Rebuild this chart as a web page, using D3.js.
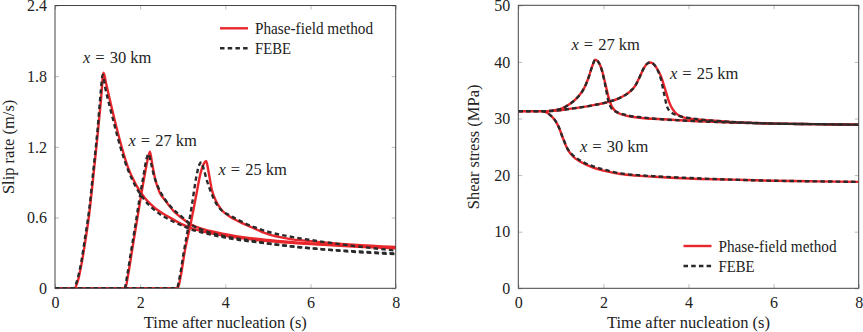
<!DOCTYPE html>
<html><head><meta charset="utf-8">
<script src="https://cdn.jsdelivr.net/npm/d3@7"></script>
<style>body{margin:0;background:#fff;}</style>
</head><body>
<svg id="c" width="863" height="332"></svg>
<script>
// ---------- data ----------
const xTicks = [0, 2, 4, 6, 8];
const slipTicks = [0, 0.6, 1.2, 1.8, 2.4];
const stressTicks = [0, 10, 20, 30, 40, 50];
const legendLabels = ["Phase-field method", "FEBE"];

// Slip rate (m/s)
const pf30_t = [0,0.45,0.55,0.63,0.72,0.8,0.9,1.0,1.08,1.14,1.2,1.3,1.42,1.55,1.72,1.9,2.1,2.35,2.7,3.0,3.2,3.5,4,5,6,7,8];
const pf30_v = [0,0,0.08,0.22,0.42,0.62,0.95,1.3,1.6,1.83,1.74,1.58,1.40,1.22,1.02,0.88,0.77,0.68,0.60,0.54,0.51,0.48,0.445,0.40,0.375,0.355,0.34];
const fe30_t = [0,0.43,0.53,0.62,0.71,0.8,0.9,1.0,1.07,1.12,1.18,1.28,1.4,1.55,1.72,1.9,2.1,2.35,2.7,3.0,3.2,3.5,4,5,6,7,8];
const fe30_v = [0,0,0.08,0.23,0.44,0.66,1.0,1.35,1.65,1.81,1.70,1.55,1.38,1.18,1.0,0.86,0.75,0.66,0.58,0.53,0.50,0.47,0.43,0.38,0.34,0.31,0.29];
const pf27_t = [0,1.65,1.72,1.8,1.9,2.0,2.1,2.18,2.23,2.28,2.35,2.45,2.6,2.8,3.0,3.2,3.5,4,4.5,5,6,7,8];
const pf27_v = [0,0,0.12,0.3,0.52,0.74,0.95,1.1,1.16,1.06,0.93,0.82,0.74,0.65,0.59,0.54,0.50,0.46,0.43,0.41,0.38,0.36,0.345];
const fe27_t = [0,1.63,1.7,1.78,1.88,1.98,2.08,2.15,2.2,2.25,2.32,2.42,2.57,2.7,3.0,3.2,3.5,4,4.5,5,6,7,8];
const fe27_v = [0,0,0.12,0.3,0.52,0.75,0.96,1.1,1.14,1.07,0.96,0.86,0.76,0.70,0.60,0.54,0.49,0.44,0.41,0.38,0.34,0.315,0.295];
const pf25_t = [0,2.88,2.95,3.05,3.17,3.3,3.42,3.5,3.55,3.6,3.68,3.78,3.9,4.1,4.3,4.6,5.0,5.5,6,7,8];
const pf25_v = [0,0,0.1,0.32,0.52,0.76,0.98,1.06,1.08,1.0,0.84,0.74,0.67,0.61,0.57,0.52,0.46,0.42,0.40,0.37,0.35];
const fe25_t = [0,2.86,2.93,3.02,3.12,3.22,3.32,3.39,3.44,3.5,3.58,3.68,3.8,3.95,4.1,4.3,4.6,5,5.5,6,7,8];
const fe25_v = [0,0,0.1,0.3,0.5,0.72,0.95,1.05,1.07,1.0,0.9,0.8,0.71,0.65,0.62,0.58,0.53,0.48,0.44,0.41,0.36,0.32];

// Shear stress (MPa)
const spf30_t = [0,0.55,0.65,0.75,0.86,0.95,1.05,1.17,1.3,1.45,1.7,2.0,2.4,2.8,3.2,4,5,6,7,8];
const spf30_s = [31.3,31.3,31.1,30.6,29.7,28.5,26.5,24.4,23.2,22.4,21.5,20.8,20.2,19.9,19.7,19.4,19.2,19.0,18.9,18.8];
const sfe30_t = [0,0.55,0.65,0.75,0.86,0.95,1.05,1.17,1.3,1.45,1.7,2.0,2.4,2.8,3.2,4,5,6,7,8];
const sfe30_s = [31.3,31.3,31.1,30.6,29.7,28.5,26.5,24.5,23.4,22.6,21.7,21.0,20.3,20.0,19.8,19.5,19.2,19.0,18.9,18.8];
const spf27_t = [0,0.6,0.8,1.0,1.2,1.4,1.55,1.65,1.74,1.81,1.88,1.96,2.05,2.13,2.2,2.27,2.4,2.6,2.9,3.3,4,5,6,7,8];
const spf27_s = [31.3,31.3,31.4,31.7,32.5,33.8,35.4,37.2,39.3,40.4,40.0,38.7,36.0,33.5,32.1,31.4,30.8,30.4,30.1,29.9,29.6,29.3,29.1,29.0,28.9];
const sfe27_t = [0,0.6,0.8,1.0,1.2,1.4,1.55,1.65,1.74,1.81,1.88,1.96,2.05,2.12,2.18,2.25,2.4,2.6,2.9,3.3,4,5,6,7,8];
const sfe27_s = [31.3,31.3,31.4,31.7,32.5,33.8,35.4,37.2,39.3,40.4,40.0,38.6,35.6,33.0,31.9,31.4,30.9,30.5,30.2,29.9,29.6,29.3,29.1,29.0,28.9];
const spf25_t = [0,0.6,0.9,1.2,1.5,1.8,2.1,2.4,2.6,2.75,2.85,2.95,3.03,3.1,3.18,3.27,3.35,3.45,3.55,3.63,3.72,3.85,4.0,4.3,5,6,7,8];
const spf25_s = [31.3,31.3,31.4,31.7,32.0,32.4,32.9,33.7,34.6,35.8,37.3,38.9,39.7,39.9,39.6,38.7,37.5,35.2,32.8,31.6,30.8,30.3,30.0,29.8,29.4,29.1,29.0,28.9];
const sfe25_t = [0,0.6,0.9,1.2,1.5,1.8,2.1,2.4,2.6,2.75,2.85,2.95,3.03,3.1,3.18,3.27,3.35,3.42,3.5,3.58,3.68,3.85,4.0,4.3,5,6,7,8];
const sfe25_s = [31.3,31.3,31.4,31.7,32.0,32.4,32.9,33.7,34.6,35.8,37.3,38.9,39.7,39.9,39.6,38.6,37.0,34.6,32.0,31.2,30.7,30.3,30.1,29.8,29.4,29.1,29.0,28.9];

// ---------- drawing ----------
const RED = "#e8262b", DARK = "#2a2a2a";
const FONT = "Liberation Serif";
const svg = d3.select("#c");

function zip(t, v){ return t.map((d,i)=>[d, v[i]]); }

function panel(cfg){
  const x = d3.scaleLinear().domain([0,8]).range([cfg.x0, cfg.x1]);
  const y = d3.scaleLinear().domain(cfg.ydom).range([cfg.y0, cfg.y1]);
  const g = svg.append("g");
  const tickCol = "#bbb";
  const ab = g.append("g").attr("transform",`translate(0,${cfg.y0})`)
    .call(d3.axisBottom(x).tickValues(xTicks).tickSize(-4).tickSizeOuter(0).tickPadding(8).tickFormat(d3.format("d")));
  const at = g.append("g").attr("transform",`translate(0,${cfg.y1})`)
    .call(d3.axisTop(x).tickValues(xTicks).tickSize(-4).tickSizeOuter(0).tickFormat(""));
  const al = g.append("g").attr("transform",`translate(${cfg.x0},0)`)
    .call(d3.axisLeft(y).tickValues(cfg.yticks).tickSize(-4).tickSizeOuter(0).tickPadding(8).tickFormat(cfg.yfmt));
  const ar = g.append("g").attr("transform",`translate(${cfg.x1},0)`)
    .call(d3.axisRight(y).tickValues(cfg.yticks).tickSize(-4).tickSizeOuter(0).tickFormat(""));
  [ab,at,al,ar].forEach(a=>{
    a.attr("font-family",FONT).attr("font-size",16);
    a.select(".domain").remove();
    a.selectAll("line").attr("stroke",tickCol).attr("stroke-width",1);
    a.selectAll("text").attr("font-size",16).attr("fill","#222").attr("font-family",FONT);
  });
  ab.selectAll("text").attr("dy","0.71em");

  const line = d3.line().x(d=>x(d[0])).y(d=>y(d[1])).curve(d3.curveMonotoneX);
  const clipId = "clip"+cfg.id;
  g.append("clipPath").attr("id",clipId).append("rect")
    .attr("x",cfg.x0).attr("y",cfg.y1-2).attr("width",cfg.x1-cfg.x0+2).attr("height",cfg.y0-cfg.y1+2);
  const cg = g.append("g").attr("clip-path",`url(#${clipId})`);
  cfg.pf.forEach(s=> cg.append("path").attr("d",line(s)).attr("fill","none").attr("stroke",RED).attr("stroke-width",2.4));
  cfg.fe.forEach(s=> cg.append("path").attr("d",line(s)).attr("fill","none").attr("stroke",DARK).attr("stroke-width",2.4).attr("stroke-dasharray","4.5,3.2"));

  g.append("rect").attr("x",cfg.x0).attr("y",cfg.y1).attr("width",cfg.x1-cfg.x0).attr("height",cfg.y0-cfg.y1)
    .attr("fill","none").attr("stroke","#444").attr("stroke-width",1);

  const txt = (sel, fs)=> sel.attr("font-family",FONT).attr("font-size",fs||16.5).attr("fill","#222");
  txt(g.append("text")).attr("x",(cfg.x0+cfg.x1)/2).attr("y",328).attr("text-anchor","middle")
    .text("Time after nucleation (s)");
  txt(g.append("text")).attr("transform",`translate(${cfg.ylabX},${(cfg.y0+cfg.y1)/2}) rotate(-90)`)
    .attr("text-anchor","middle").text(cfg.ylabel);

  cfg.notes.forEach(n=>{
    const t = txt(g.append("text")).attr("x",n[0]).attr("y",n[1]);
    t.append("tspan").attr("font-style","italic").text("x");
    t.append("tspan").attr("dx",5).text("=");
    t.append("tspan").attr("dx",5).text(n[2]);
  });

  const L = cfg.legend;
  [0,1].forEach(i=>{
    const yy = L.y + i*20;
    g.append("line").attr("x1",L.x).attr("x2",L.x+28).attr("y1",yy).attr("y2",yy)
      .attr("stroke", i===0?RED:DARK).attr("stroke-width",2.4)
      .attr("stroke-dasharray", i===0?null:"4.5,3.2");
    const t = txt(g.append("text")).attr("x",L.x+35).attr("y",yy+5.5).text(legendLabels[i]);
    if(i===0) t.attr("textLength",118).attr("lengthAdjust","spacingAndGlyphs");
    else t.attr("textLength",36).attr("lengthAdjust","spacingAndGlyphs");
  });
}

panel({
  id:"a", x0:55, x1:395.7, y0:288.3, y1:5.5, ydom:[0,2.4], yticks:slipTicks,
  yfmt:d=> d===0?"0":d3.format(".1f")(d),
  ylabel:"Slip rate (m/s)", ylabX:14,
  pf:[zip(pf30_t,pf30_v), zip(pf27_t,pf27_v), zip(pf25_t,pf25_v)],
  fe:[zip(fe30_t,fe30_v), zip(fe27_t,fe27_v), zip(fe25_t,fe25_v)],
  notes:[[83,63,"30 km"],[128.5,146,"27 km"],[218.5,175,"25 km"]],
  legend:{x:220, y:28.3}
});
panel({
  id:"b", x0:518.3, x1:858.7, y0:288.3, y1:5.3, ydom:[0,50], yticks:stressTicks,
  yfmt:d3.format("d"),
  ylabel:"Shear stress (MPa)", ylabX:479,
  pf:[zip(spf30_t,spf30_s), zip(spf27_t,spf27_s), zip(spf25_t,spf25_s)],
  fe:[zip(sfe30_t,sfe30_s), zip(sfe27_t,sfe27_s), zip(sfe25_t,sfe25_s)],
  notes:[[571.5,50,"27 km"],[670,78.5,"25 km"],[580,151.5,"30 km"]],
  legend:{x:683.5, y:246}
});
</script></body></html>
